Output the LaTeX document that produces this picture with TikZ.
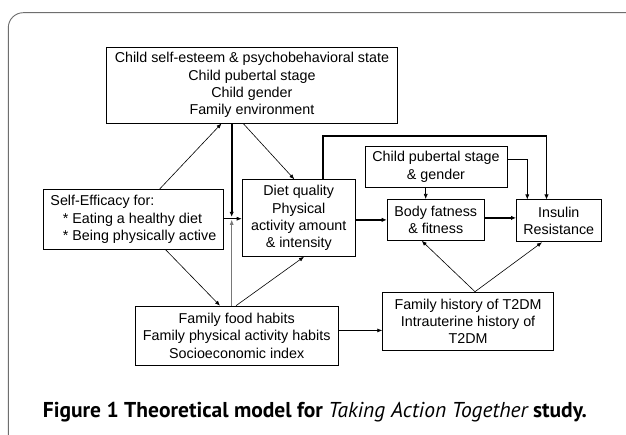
\documentclass[tikz,border=0pt]{standalone}
\usepackage{fontspec}
\setmainfont{Liberation Sans}
\newfontfamily\capfont{PT Sans}
\usetikzlibrary{arrows.meta}
\definecolor{framegray}{RGB}{110,110,110}
\definecolor{linegray}{RGB}{120,120,120}
\begin{document}
\begin{tikzpicture}[x=1pt,y=-1pt,
  box/.style={draw=black, line width=0.8pt, inner sep=0pt, align=center,
    font=\fontsize{14.3}{17.4}\selectfont, anchor=north west},
  arr/.style={line width=0.6pt, -{Latex[length=5pt,width=4pt]}},
  thickarr/.style={line width=1.9pt, -{Latex[length=5pt,width=4.5pt]}},
  grayarr/.style={draw=linegray, line width=0.8pt, -{Latex[length=5pt,width=4pt]}},
]
\useasboundingbox (0,0) rectangle (626,435);
\fill[white] (0,0) rectangle (626,435);
\draw[framegray, line width=0.9pt, rounded corners=15pt] (8.3,436) -- (8.3,12.7) -- (627,12.7);

\node[box, minimum width=291pt, minimum height=76pt] (top) at (106,46.7)
  {Child self-esteem \& psychobehavioral state\\Child pubertal stage\\Child gender\\Family environment};
\node[box, align=left, minimum width=180.6pt, minimum height=60pt] (se) at (42.7,189)
  {Self-Efficacy for:\\\hspace*{12.4pt}* Eating a healthy diet\\\hspace*{12.4pt}* Being physically active};
\node[box, minimum width=113.3pt, minimum height=76.7pt] (diet) at (241.7,179.3)
  {Diet quality\\Physical\\activity amount\\\& intensity};
\node[box, minimum width=142.2pt, minimum height=40.9pt] (cps) at (364.5,145.8)
  {Child pubertal stage\\\& gender};
\node[box, minimum width=97.3pt, minimum height=41pt] (body) at (386.7,199)
  {Body fatness\\\& fitness};
\node[box, minimum width=84.7pt, minimum height=42pt] (ins) at (516,199.5)
  {Insulin\\Resistance};
\node[box, minimum width=202.7pt, minimum height=59.3pt] (food) at (135,305.7)
  {Family food habits\\Family physical activity habits\\Socioeconomic index};
\node[box, minimum width=170.7pt, minimum height=58.5pt] (hist) at (382.3,291.7)
  {Family history of T2DM\\Intrauterine history of\\T2DM};

\coordinate (jd) at (231.7,216.8);
\coordinate (ju) at (231.7,219.8);

% connectors
\draw[arr] ([xshift=117pt]se.north west) -- ([xshift=115.5pt]top.south west);
\draw[arr] ([xshift=137.2pt]top.south west) -- ([xshift=52.6pt]diet.north west);
\draw[thickarr] ([xshift=125.7pt]top.south west) -- (jd);
\draw[grayarr] ([xshift=96.7pt]food.north west) -- (ju);
\draw[arr] ([yshift=0.7pt]se.east) -- ([yshift=0.7pt]se.east -| diet.west);
\draw[arr] ([xshift=123pt]se.south west) -- ([xshift=85pt]food.north west);
\draw[arr] ([xshift=101pt]food.north west) -- ([xshift=62.3pt]diet.south west);
\draw[thickarr] (body.west -| diet.east) -- (body.west);
\draw[thickarr] ([yshift=2pt]body.east) -- ([yshift=2pt]body.east -| ins.west);
\draw[arr] ([xshift=61.2pt]cps.south west) -- ([xshift=61.2pt]cps.south west |- body.north);
\draw[arr] ([yshift=7.2pt]cps.east) -| ([xshift=11.3pt]ins.north west);
\draw[thickarr] ([xshift=81.6pt]diet.north west) -- ++(0,-43.3) -| ([xshift=30.5pt]ins.north west);
\draw[arr] ([xshift=92.7pt]hist.north west) -- ([xshift=35pt]body.south west);
\draw[arr] ([xshift=92.7pt]hist.north west) -- ([xshift=26pt]ins.south west);
\draw[arr] ([yshift=5.3pt]food.east) -- ([yshift=5.3pt]food.east -| hist.west);

\node[anchor=base west, inner sep=0pt, font=\capfont\fontsize{21.5}{25}\selectfont\bfseries] (cap) at (42.7,417)
  {Figure 1 Theoretical model for {\mdseries\itshape Taking Action Together} study.};
\end{tikzpicture}
\end{document}
